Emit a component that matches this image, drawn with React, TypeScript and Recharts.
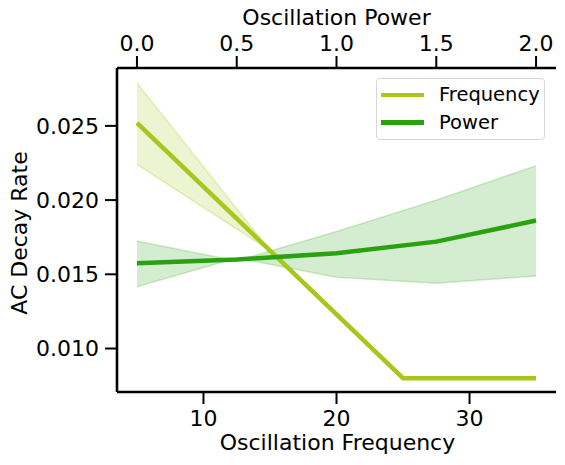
import React from 'react';
import { ComposedChart, Line, Area, XAxis, YAxis, Legend, Label } from 'recharts';

// Frequency sweep (bottom axis)
const freqX = [5, 15, 25, 35];
const freqMean = [0.0252, 0.0166, 0.008, 0.008];
const freqLow = [0.0224, 0.0166, 0.008, 0.008];
const freqHigh = [0.0279, 0.0166, 0.008, 0.008];

// Power sweep (top axis)
const powX = [0, 0.5, 1.0, 1.5, 2.0];
const powMean = [0.01574, 0.016, 0.01642, 0.0172, 0.01862];
const powLow = [0.01416, 0.0161, 0.0148, 0.01439, 0.01489];
const powHigh = [0.01725, 0.0159, 0.01788, 0.02, 0.02232];

const freqTicks = [10, 20, 30];
const powTicks = [0, 0.5, 1.0, 1.5, 2.0];
const yTicks = [0.01, 0.015, 0.02, 0.025];

const FREQ_COLOR = '#a6c71b';
const POW_COLOR = '#2aa10f';
const FONT = '"DejaVu Sans", sans-serif';

const freqData = freqX.map((x, i) => ({ x, mean: freqMean[i], band: [freqLow[i], freqHigh[i]] }));
const powData = powX.map((x, i) => ({ x, mean: powMean[i], band: [powLow[i], powHigh[i]] }));

const tickStyle = { fill: '#000', fontSize: 22, fontFamily: FONT };
const tickLineStyle = { stroke: '#000', strokeWidth: 2 };
const frameStyle = { stroke: '#000', strokeWidth: 2.6 };

const LegendBox = () => (
  <div
    style={{
      position: 'absolute',
      left: 376,
      top: 78,
      width: 169,
      height: 62,
      boxSizing: 'border-box',
      border: '1px solid #d6d6d6',
      borderRadius: 4,
      background: 'rgba(255,255,255,0.8)',
      fontFamily: FONT,
      fontSize: 19.5,
      color: '#000',
    }}
  >
    {[
      { name: 'Frequency', color: FREQ_COLOR, top: 3 },
      { name: 'Power', color: POW_COLOR, top: 30.5 },
    ].map((item) => (
      <div key={item.name} style={{ position: 'absolute', left: 4, top: item.top, height: 26, display: 'flex', alignItems: 'center' }}>
        <span style={{ display: 'inline-block', width: 43, height: 4.5, background: item.color }} />
        <span style={{ marginLeft: 15, lineHeight: '26px' }}>{item.name}</span>
      </div>
    ))}
  </div>
);

export default function App() {
  return (
    <div style={{ position: 'fixed', left: 0, top: 0, width: 565, height: 465, background: '#fff' }}>
      <ComposedChart width={565} height={465} margin={{ top: 0, right: 9, bottom: 0, left: 0 }}>
        <XAxis
          xAxisId="freq"
          type="number"
          dataKey="x"
          domain={[3.5, 36.5]}
          ticks={freqTicks}
          allowDataOverflow
          height={73}
          tick={tickStyle}
          tickSize={12}
          tickMargin={6}
          tickLine={tickLineStyle}
          axisLine={frameStyle}
        >
          <Label
            content={({ viewBox }: any) => (
              <text x={viewBox.x + viewBox.width / 2 + 1} y={viewBox.y + 58} textAnchor="middle" fontSize={22} fontFamily={FONT} fill="#000">
                Oscillation Frequency
              </text>
            )}
          />
        </XAxis>
        <XAxis
          xAxisId="pow"
          orientation="top"
          type="number"
          dataKey="x"
          domain={[-0.1, 2.1]}
          ticks={powTicks}
          tickFormatter={(v: number) => v.toFixed(1)}
          allowDataOverflow
          height={68}
          tick={tickStyle}
          tickSize={12}
          tickMargin={5}
          tickLine={tickLineStyle}
          axisLine={frameStyle}
        >
          <Label
            content={({ viewBox }: any) => (
              <text x={viewBox.x + viewBox.width / 2} y={25} textAnchor="middle" fontSize={22} fontFamily={FONT} fill="#000">
                Oscillation Power
              </text>
            )}
          />
        </XAxis>
        <YAxis
          yAxisId="y"
          type="number"
          domain={[0.00707, 0.0289]}
          ticks={yTicks}
          tickFormatter={(v: number) => v.toFixed(3)}
          allowDataOverflow
          width={117}
          tick={tickStyle}
          tickSize={12}
          tickMargin={6}
          tickLine={tickLineStyle}
          axisLine={frameStyle}
        >
          <Label
            content={({ viewBox }: any) => {
              const cx = 19;
              const cy = viewBox.y + viewBox.height / 2 + 3;
              return (
                <text
                  x={cx}
                  y={cy}
                  transform={`rotate(-90, ${cx}, ${cy})`}
                  textAnchor="middle"
                  dominantBaseline="central"
                  fontSize={22}
                  fontFamily={FONT}
                  fill="#000"
                >
                  AC Decay Rate
                </text>
              );
            }}
          />
        </YAxis>
        <YAxis
          yAxisId="right"
          orientation="right"
          type="number"
          domain={[0.00707, 0.0289]}
          width={0}
          tick={false}
          tickLine={false}
          axisLine={frameStyle}
        />

        <Area
          data={freqData}
          xAxisId="freq"
          yAxisId="y"
          dataKey="band"
          type="linear"
          fill={FREQ_COLOR}
          fillOpacity={0.2}
          stroke={FREQ_COLOR}
          strokeOpacity={0.25}
          strokeWidth={1.5}
          isAnimationActive={false}
          legendType="none"
        />
        <Line
          data={freqData}
          xAxisId="freq"
          yAxisId="y"
          dataKey="mean"
          name="Frequency"
          type="linear"
          stroke={FREQ_COLOR}
          strokeWidth={4.5}
          dot={false}
          activeDot={false}
          isAnimationActive={false}
        />
        <Area
          data={powData}
          xAxisId="pow"
          yAxisId="y"
          dataKey="band"
          type="linear"
          fill={POW_COLOR}
          fillOpacity={0.2}
          stroke={POW_COLOR}
          strokeOpacity={0.2}
          strokeWidth={1.5}
          isAnimationActive={false}
          legendType="none"
        />
        <Line
          data={powData}
          xAxisId="pow"
          yAxisId="y"
          dataKey="mean"
          name="Power"
          type="linear"
          stroke={POW_COLOR}
          strokeWidth={4.5}
          dot={false}
          activeDot={false}
          isAnimationActive={false}
        />
        <Legend content={() => null} />
      </ComposedChart>
      <LegendBox />
    </div>
  );
}
